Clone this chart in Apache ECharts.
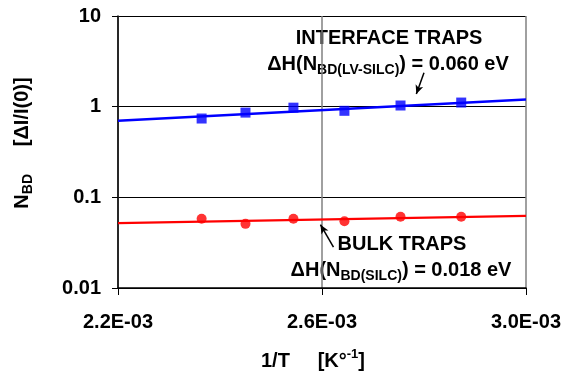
<!DOCTYPE html>
<html>
<head>
<meta charset="utf-8">
<script src="https://cdn.jsdelivr.net/npm/echarts@6/dist/echarts.min.js"></script>
<style>
  html, body { margin: 0; padding: 0; background: #ffffff; }
  #chart { width: 564px; height: 375px; }
</style>
</head>
<body>
<div id="chart"></div>
<script>
// 1/T values of the measured points
const invT = [0.002364, 0.002450, 0.002544, 0.002644, 0.002754, 0.002873];
// interface traps (blue squares) and bulk traps (red circles)
const interfaceNbd = [0.74, 0.86, 0.975, 0.90, 1.03, 1.11];
const bulkNbd = [0.058, 0.051, 0.058, 0.0545, 0.061, 0.061];
// fit lines, read at both ends of the x range
const fitX = [0.0022, 0.0030];
const interfaceFit = [0.70, 1.20];
const bulkFit = [0.052, 0.0625];
const xTicks = ['2.2E-03', '2.6E-03', '3.0E-03'];

const font = "'Liberation Sans', Arial, sans-serif";
const chart = echarts.init(document.getElementById('chart'), null, { renderer: 'canvas' });

const pairs = (xs, ys) => xs.map((x, i) => [x, ys[i]]);

const subRich = {
  b: { fontFamily: font, fontWeight: 'bold', fontSize: 20, lineHeight: 26, color: '#000' },
  s: { fontFamily: font, fontWeight: 'bold', fontSize: 14, lineHeight: 14, verticalAlign: 'bottom', color: '#000' }
};

chart.setOption({
  animation: false,
  grid: { left: 118, right: 37, top: 16, bottom: 87 },
  xAxis: {
    type: 'value',
    min: 0.0022,
    max: 0.0030,
    interval: 0.0004,
    axisLine: { lineStyle: { color: '#000', width: 1.5 } },
    axisTick: { show: true, length: 7, lineStyle: { color: '#000' } },
    axisLabel: {
      margin: 24,
      fontFamily: font, fontWeight: 'bold', fontSize: 20, color: '#000',
      formatter: v => xTicks[Math.round((v - 0.0022) / 0.0004)]
    },
    splitLine: { show: true, lineStyle: { color: '#808080', width: 1.5 } }
  },
  yAxis: {
    type: 'log',
    logBase: 10,
    min: 0.01,
    max: 10,
    axisLine: { show: true, lineStyle: { color: '#000', width: 1.5 } },
    axisTick: { show: true, inside: false, length: 6, lineStyle: { color: '#000' } },
    minorTick: { show: false },
    axisLabel: {
      margin: 17,
      fontFamily: font, fontWeight: 'bold', fontSize: 20, color: '#000',
      formatter: v => String(+v.toPrecision(2))
    },
    splitLine: { show: true, lineStyle: { color: '#000', width: 1 } }
  },
  series: [
    {
      type: 'line',
      data: pairs(fitX, interfaceFit),
      symbol: 'none',
      lineStyle: { color: '#0000ff', width: 2.5 },
      z: 2
    },
    {
      type: 'line',
      data: pairs(fitX, bulkFit),
      symbol: 'none',
      lineStyle: { color: '#ff0000', width: 2.2 },
      z: 2,
      markLine: {
        silent: true,
        animation: false,
        label: { show: false },
        lineStyle: { color: '#000', width: 1.5, type: 'solid' },
        symbolSize: [6, 9],
        data: [
          [{ coord: [0.002800, 2.36], symbol: 'none' }, { coord: [0.002785, 1.38], symbol: 'arrow' }],
          [{ coord: [0.0026225, 0.0282], symbol: 'none' }, { coord: [0.002597, 0.0500], symbol: 'arrow' }]
        ]
      }
    },
    {
      type: 'scatter',
      data: pairs(invT, interfaceNbd),
      symbol: 'rect',
      symbolSize: 10,
      itemStyle: { color: '#0000ff' },
      z: 3
    },
    {
      type: 'scatter',
      data: pairs(invT, bulkNbd),
      symbol: 'circle',
      symbolSize: 10,
      itemStyle: { color: '#ff0000' },
      z: 3
    }
  ],
  graphic: [
    {
      type: 'text', x: 389, y: 38,
      style: { text: 'INTERFACE TRAPS', font: 'bold 20px ' + font, fill: '#000', align: 'center', verticalAlign: 'middle' }
    },
    {
      type: 'text', x: 388, y: 64,
      style: { text: '{b|ΔH(N}{s|BD(LV-SILC)}{b|) = 0.060 eV}', rich: subRich, align: 'center', verticalAlign: 'middle' }
    },
    {
      type: 'text', x: 402, y: 244,
      style: { text: 'BULK TRAPS', font: 'bold 20px ' + font, fill: '#000', align: 'center', verticalAlign: 'middle' }
    },
    {
      type: 'text', x: 401, y: 270,
      style: { text: '{b|ΔH(N}{s|BD(SILC)}{b|) = 0.018 eV}', rich: subRich, align: 'center', verticalAlign: 'middle' }
    },
    {
      type: 'text', x: 22, y: 143, rotation: Math.PI / 2,
      style: { text: '{b|N}{s|BD}{b|     [ΔI/I(0)]}', rich: subRich, align: 'center', verticalAlign: 'middle' }
    },
    {
      type: 'text', x: 313, y: 361,
      style: {
        text: '{b|1/T     [K°}{p|-1}{b|]}',
        rich: {
          b: { fontFamily: font, fontWeight: 'bold', fontSize: 20, lineHeight: 26, color: '#000' },
          p: { fontFamily: font, fontWeight: 'bold', fontSize: 13, lineHeight: 14, verticalAlign: 'top', color: '#000' }
        },
        align: 'center', verticalAlign: 'middle'
      }
    }
  ]
});
</script>
</body>
</html>
